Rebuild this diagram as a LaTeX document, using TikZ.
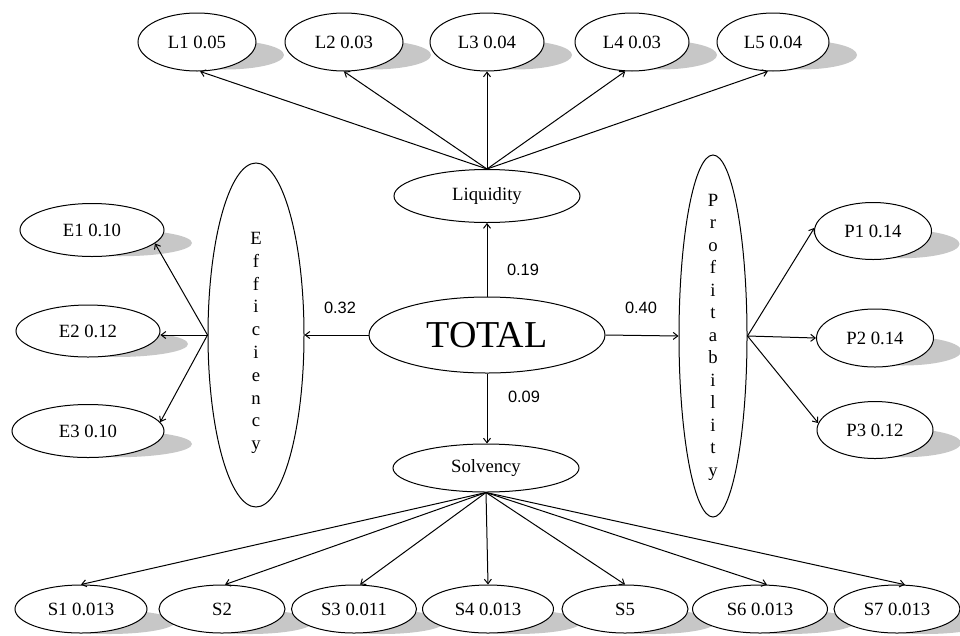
\documentclass[tikz,border=0pt]{standalone}
\usepackage{fontspec}
\setmainfont{Liberation Serif}
\newfontfamily\lblfont{Liberation Sans}
\usetikzlibrary{shapes.geometric,arrows.meta}
\begin{document}
\begin{tikzpicture}[x=1pt,y=-1pt,
  ell/.style={ellipse,draw,line width=1pt,fill=white,inner sep=0pt,
    font=\fontsize{18.7}{22}\selectfont},
  shad/.style={fill=black!22},
  arr/.style={line width=1pt,-{Straight Barb[length=4.5pt,width=7pt]}},
  lbl/.style={font=\lblfont\fontsize{16.4}{18}\selectfont},
  vtext/.style={align=center,inner sep=0pt}]
\useasboundingbox (0,0) rectangle (960,635);

% indicator ellipses with shadows
\foreach \n/\x/\y/\w/\h/\t in {
  L1/197/42/118/58/{L1 0.05}, L2/344/42/118/58/{L2 0.03}, L3/487/42/114/58/{L3 0.04},
  L4/632/42/114/58/{L4 0.03}, L5/773/42/112/58/{L5 0.04},
  E1/92/230/144/53/{E1 0.10}, E2/88/331/144/52/{E2 0.12}, E3/88/431/152/53/{E3 0.10},
  P1/873/231/117/57/{P1 0.14}, P2/875/338/117/58/{P2 0.14}, P3/875/430/116/57/{P3 0.12},
  S1/81/609/132/48/{S1 0.013}, S2/222/609/126/48/{S2}, S3/354/609/125/48/{S3 0.011},
  S4/488/609/131/48/{S4 0.013}, S5/625/609/126/48/{S5}, S6/760/609/135/48/{S6 0.013},
  S7/897/609/126/48/{S7 0.013}}{
  \fill[shad] ({\x+28},{\y+13}) ellipse [x radius=\w/2, y radius=\h/4];
  \node[ell, minimum width=\w*1pt, minimum height=\h*1pt] (\n) at (\x,\y) {\t};
}

% latent ellipses
\node[ell, minimum width=186pt, minimum height=53pt] (liq) at (487,196) {Liquidity};
\node[ell, minimum width=186pt, minimum height=48pt] (sol) at (486,468) {Solvency};
\node[ell, minimum width=236pt, minimum height=76pt, font=\fontsize{38}{40}\selectfont] (tot) at (487,335) {TOTAL};
\node[ell, minimum width=96pt, minimum height=344pt] (eff) at (256,335) {};
\node[ell, minimum width=68pt, minimum height=362pt] (prof) at (713,336) {};
\node[vtext, font=\fontsize{18.7}{22.8}\selectfont] (efftxt) at (256,343)
  {E\\f\\f\\i\\c\\i\\e\\n\\c\\y};
\node[vtext, font=\fontsize{18.7}{22.5}\selectfont] (proftxt) at (713,337)
  {P\\r\\o\\f\\i\\t\\a\\b\\i\\l\\i\\t\\y};

% TOTAL to latents
\draw[arr] (tot.north) -- (tot.north |- liq.south);
\draw[arr] (tot.south) -- (tot.south |- sol.north);
\draw[arr] (tot.west) -- (eff.east);
\draw[arr] (tot.east) -- (prof.west);
\node[lbl] (l19) at (523,270) {0.19};
\node[lbl] (l09) at (524,397) {0.09};
\node[lbl] (l32) at (340,308) {0.32};
\node[lbl] (l40) at (641,308) {0.40};

% Liquidity indicators
\draw[arr] (liq.north) -- (L1.-84);
\draw[arr] (liq.north) -- (L2.south);
\draw[arr] (liq.north) -- (L3.south);
\draw[arr] (liq.north) -- (L4.-103);
\draw[arr] (liq.north) -- (L5.-100);

% Efficiency indicators
\draw[arr] (eff.west) -- (E1.-12);
\draw[arr] (eff.west) -- (eff.west -| E2.east);
\draw[arr] (eff.west) -- (E3.7);

% Profitability indicators
\draw[arr] (prof.east) -- (P1.177);
\draw[arr] (prof.east) -- (P2.west);
\draw[arr] (prof.east) -- (P3.173);

% Solvency indicators
\draw[arr] (sol.south) -- (S1.north);
\draw[arr] (sol.south) -- (S2.83);
\draw[arr] (sol.south) -- (S3.76);
\draw[arr] (sol.south) -- (S4.north);
\draw[arr] (sol.south) -- (S5.north);
\draw[arr] (sol.south) -- (S6.74);
\draw[arr] (sol.south) -- (S7.72);
\end{tikzpicture}
\end{document}
